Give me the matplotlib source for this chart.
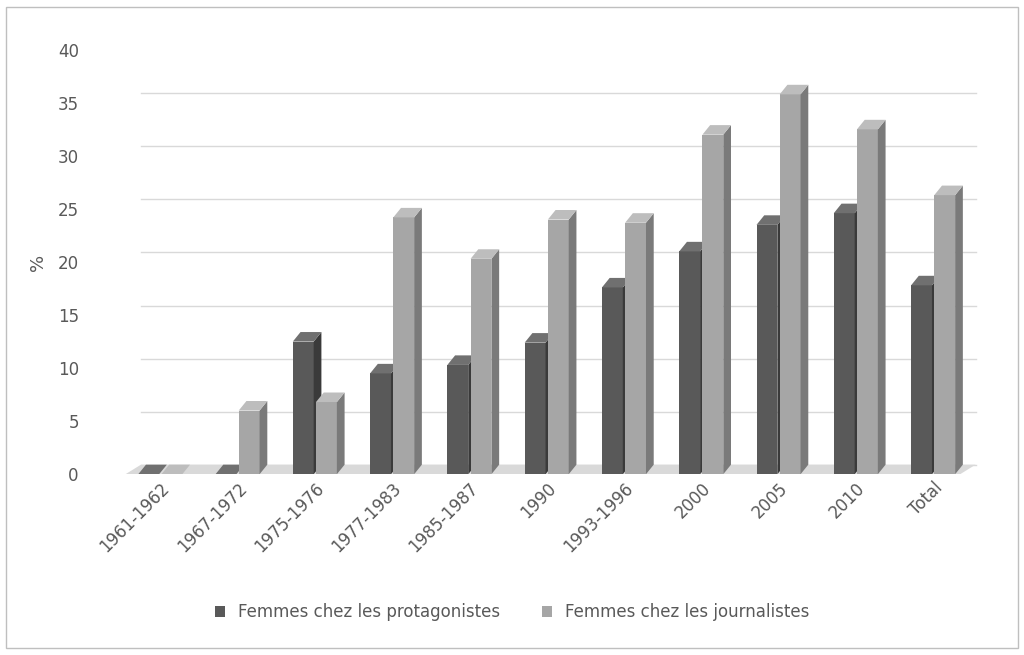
import matplotlib
matplotlib.use("Agg")
import matplotlib.pyplot as plt
from matplotlib.patches import Polygon, Rectangle

categories = ["1961-1962","1967-1972","1975-1976","1977-1983","1985-1987","1990",
              "1993-1996","2000","2005","2010","Total"]
protagonistes = [0, 0, 12.5, 9.5, 10.3, 12.4, 17.6, 21.0, 23.5, 24.6, 17.8]
journalistes = [0, 6.0, 6.8, 24.2, 20.3, 24.0, 23.7, 32.0, 35.8, 32.5, 26.3]
series_names = ["Femmes chez les protagonistes", "Femmes chez les journalistes"]

fig = plt.figure(figsize=(10.24, 6.55), dpi=100)
fig.patches.append(Rectangle((0.006, 0.01), 0.988, 0.98, transform=fig.transFigure,
                             fill=False, ec="#bfbfbf", lw=1))
ax = fig.add_axes([0.115, 0.276, 0.84, 0.648])
ax.set_xlim(-0.55, 10.58)
ax.set_ylim(0, 40)
for s in ax.spines.values():
    s.set_visible(False)

dx, dy = 0.1, 0.9
w = 0.27
# floor
ax.add_patch(Polygon([(-0.45, 0), (10.35, 0), (10.35 + 2*dx, dy), (-0.45 + 2*dx, dy)],
                     closed=True, fc="#d9d9d9", ec="none", zorder=1))
for v in range(0, 45, 5):
    ax.plot([-0.45 + 2*dx, 10.35 + 2*dx], [v + dy, v + dy], color="#d9d9d9", lw=1, zorder=0)

def bar3d(x, h, front, side, top):
    ax.add_patch(Rectangle((x - w/2, 0), w, h, fc=front, ec="none", zorder=3))
    ax.add_patch(Polygon([(x + w/2, 0), (x + w/2 + dx, dy), (x + w/2 + dx, h + dy), (x + w/2, h)],
                         fc=side, ec="none", zorder=3))
    ax.add_patch(Polygon([(x - w/2, h), (x + w/2, h), (x + w/2 + dx, h + dy), (x - w/2 + dx, h + dy)],
                         fc=top, ec="none", zorder=3))

for i in range(len(categories)):
    bar3d(i - 0.15, protagonistes[i], "#595959", "#3a3a3a", "#707070")
    bar3d(i + 0.15, journalistes[i], "#a6a6a6", "#7a7a7a", "#bdbdbd")

ax.set_yticks(range(0, 45, 5))
ax.set_xticks(range(len(categories)))
ax.set_xticklabels(categories, rotation=45, ha="right", rotation_mode="anchor", color="#595959", fontsize=11)
ax.tick_params(length=0, labelsize=12, colors="#595959")
ax.tick_params(axis="y", pad=28)
ax.set_ylabel("%", fontsize=13, color="#595959", labelpad=8)

h1 = Rectangle((0, 0), 1, 1, fc="#595959")
h2 = Rectangle((0, 0), 1, 1, fc="#a6a6a6")
fig.legend([h1, h2], series_names, loc="center", bbox_to_anchor=(0.5, 0.065), ncol=2,
           frameon=False, fontsize=12, handlelength=0.6, handleheight=0.6,
           labelcolor="#595959", columnspacing=2.5)
fig.savefig("out.png", dpi=100)
